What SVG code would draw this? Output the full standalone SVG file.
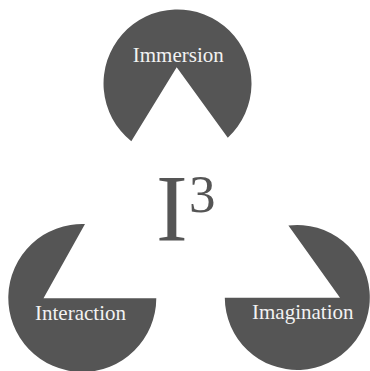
<svg xmlns="http://www.w3.org/2000/svg" width="370" height="371" viewBox="0 0 370 371">
  <style>
    .pac { fill: #555555; }
    .lbl { font-family: "Liberation Serif", "Times New Roman", serif; font-size: 21px; fill: #f2f2f2; text-anchor: middle; }
    .title { font-family: "Liberation Serif", "Times New Roman", serif; fill: #555555; }
  </style>
  <rect width="370" height="371" fill="#ffffff"/>
  <g id="immersion">
    <path class="pac" d="M176.7,67.3 L131.3,141.3 A74,74 0 1 1 227.8,137.8 Z"/>
    <text class="lbl" x="178.3" y="61.7">Immersion</text>
  </g>
  <g id="interaction">
    <path class="pac" d="M43.5,298.2 L85,224 A74,74 0 1 0 156.3,298.2 Z"/>
    <text class="lbl" x="80.5" y="320">Interaction</text>
  </g>
  <g id="imagination">
    <path class="pac" d="M340,297.8 L288.4,225.5 A72.5,72.5 0 1 1 224.8,297.8 Z"/>
    <text class="lbl" x="302.8" y="318.5">Imagination</text>
  </g>
  <g id="center-title">
    <text class="title" x="156" y="240.5" font-size="95">I</text>
    <text class="title" x="189" y="212" font-size="53">3</text>
  </g>
</svg>
